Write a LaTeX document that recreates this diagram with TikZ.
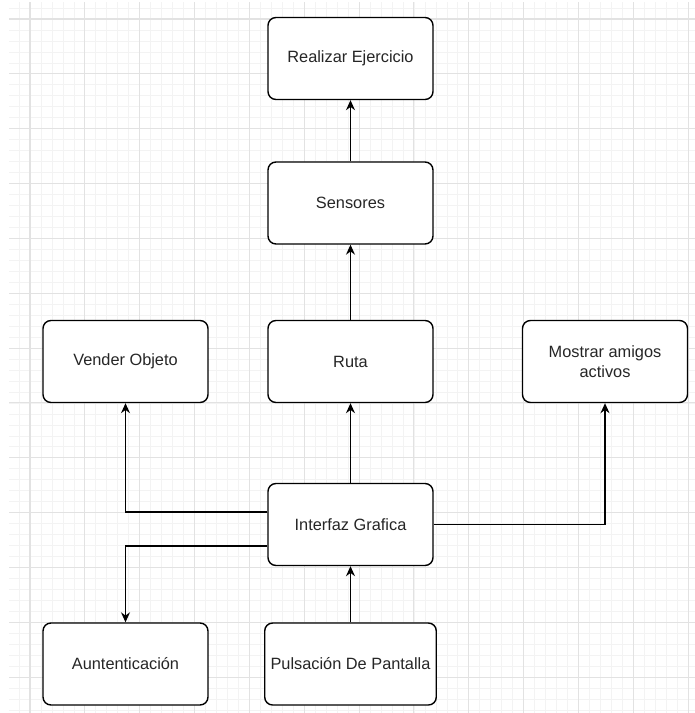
\documentclass[tikz,border=0pt]{standalone}
\usepackage{fontspec}
\setmainfont{Liberation Sans}
\usepackage{xcolor}
\usetikzlibrary{arrows.meta, positioning, calc}
\definecolor{gridminor}{HTML}{F3F3F3}
\definecolor{gridmajor}{HTML}{E2E2E2}
\definecolor{inktext}  {HTML}{262626}

\begin{document}
\begin{tikzpicture}[
  x=0.02cm, y=-0.02cm,
  % one box size for all eight, the canvas is in pixel units
  caja/.style={draw, rounded corners=4.5pt, minimum width=3.3cm, minimum height=1.64cm,
               line width=0.8pt, fill=white, align=center, text=inktext,
               font=\fontsize{9.3}{11.5}\selectfont},
  arr/.style={-{Stealth[length=2mm, width=1.8mm]}, line width=0.8pt},
  menor/.style={gridminor, line width=0.4pt},
  mayor/.style={gridmajor, line width=0.6pt}
]
\useasboundingbox (0,0) rectangle (695,713);

% background grid
\begin{scope}
  \clip (9,3) rectangle (695,713);
  \foreach \i in {-2,...,63} {
    \draw[menor] (30+\i*10.97,0) -- (30+\i*10.97,713);
    \draw[menor] (0,19+\i*10.97) -- (695,19+\i*10.97);
  }
  \foreach \i in {-1,...,13} {
    \draw[mayor] (30+\i*54.85,0) -- (30+\i*54.85,713);
    \draw[mayor] (0,19+\i*54.85) -- (695,19+\i*54.85);
  }
\end{scope}

\node[caja] (real) at (350.5, 58.5)  {Realizar Ejercicio};
\node[caja] (sen)  at (350.5, 203)   {Sensores};
\node[caja] (ruta) at (350.5, 361.5) {Ruta};
\node[caja] (vend) at (125.5, 361.5) {Vender Objeto};
\node[caja] (most) at (605,   361.5) {Mostrar amigos\\activos};
\node[caja] (intf) at (350.5, 524.5) {Interfaz Grafica};
\node[caja] (auth) at (125.5, 664)   {Auntenticación};
\node[caja] (puls) at (350.5, 664)   {Pulsación De Pantalla};

\draw[arr] (puls) -- (intf);
\draw[arr] (intf) -- (ruta);
\draw[arr] (ruta) -- (sen);
\draw[arr] (sen) -- (real);
\draw[arr] ([yshift=0.25cm]intf.west) -| (vend);
\draw[arr] ([yshift=-0.43cm]intf.west) -| (auth);
\draw[arr] (intf.east) -| (most);

\end{tikzpicture}
\end{document}
